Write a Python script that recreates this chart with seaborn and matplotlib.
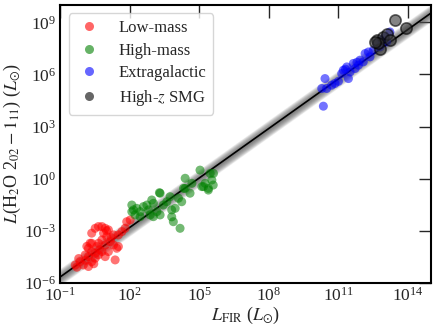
import numpy as np
import pandas as pd
import matplotlib
matplotlib.use("Agg")
import matplotlib.pyplot as plt
from matplotlib.lines import Line2D
import seaborn as sns

# log10 values
low_lx = [-0.28, 0.00, 0.22, 0.36, 0.22, 0.08, 0.51, 0.65, 0.29, 0.22, 0.36, 0.58,
          0.36, 0.51, 0.65, 0.80, 0.94, 1.08, 0.87, 1.01, 0.80, 0.65, 0.94, 1.16,
          1.30, 1.44, 1.37, 1.08, 0.80, 0.94, 0.51, 0.36, 1.30, 1.51, 1.66, 1.80,
          1.87, 2.02, 1.51, -0.14, -0.35, -0.20, 0.10, 0.45, 0.70, 1.20, 1.00, 0.15]
low_ly = [-5.10, -4.97, -5.06, -4.78, -4.49, -4.39, -4.58, -4.39, -3.72, -4.01, -3.72, -3.91,
          -3.14, -2.86, -2.76, -2.76, -2.86, -2.95, -3.14, -3.34, -3.53, -3.72, -3.82, -3.63,
          -3.82, -4.01, -4.68, -4.20, -4.20, -4.49, -4.30, -4.20, -3.24, -3.24, -3.05, -2.86,
          -2.48, -2.38, -3.91, -4.78, -4.97, -4.60, -4.70, -4.90, -4.10, -3.40, -3.00, -3.90]

high_lx = [2.09, 2.16, 2.30, 2.45, 2.59, 2.74, 2.81, 2.95, 3.02, 2.88, 3.17, 3.31,
           3.28, 3.81, 3.96, 4.17, 3.88, 3.74, 4.10, 4.24, 4.39, 4.39, 4.60, 4.68,
           5.03, 5.11, 5.25, 5.39, 5.47, 5.54, 2.45, 2.23, 3.02, 3.45, 3.60, 3.81,
           3.31, 4.32, 5.18, 5.61, 5.60, 5.39, 2.09]
high_ly = [-1.52, -1.80, -1.71, -1.90, -1.61, -1.52, -1.80, -1.23, -1.42, -2.09, -1.90, -2.09,
           -0.81, -1.80, -1.71, -2.86, -2.48, -1.04, -1.13, -1.33, 0.02, -0.56, -0.84, -0.27,
           0.49, -0.46, -0.27, -0.56, 0.30, -0.08, -2.19, -2.09, -2.19, -1.52, -1.33, -2.20,
           -0.84, -0.56, -0.46, 0.30, -0.37, -0.66, -1.90]

extra_lx = [10.35, 10.42, 10.28, 10.49, 10.71, 10.85, 11.21, 11.36, 11.14, 11.43, 11.50, 11.64,
            11.72, 11.86, 11.93, 12.15, 12.29, 12.36, 12.50, 12.07, 12.65, 12.86, 13.01, 13.22,
            13.08, 12.79, 11.00, 11.30, 11.80]
extra_ly = [4.17, 5.76, 5.19, 5.19, 5.38, 5.48, 6.24, 6.43, 6.05, 5.76, 6.14, 6.63,
            6.34, 6.53, 6.82, 7.20, 7.29, 7.01, 7.39, 6.72, 7.78, 7.97, 8.16, 8.44,
            7.87, 7.58, 5.60, 6.30, 6.70]

smg_lx = [13.44, 13.91, 12.65, 12.79, 12.94, 13.08, 13.22, 12.72, 12.58]
smg_ly = [9.11, 8.69, 7.97, 7.49, 8.16, 8.30, 7.97, 7.78, 7.87]

labels = ["Low-mass", "High-mass", "Extragalactic", "High-$z$ SMG"]
colors = ["red", "green", "blue", "black"]

# fit: log L_H2O = slope * log L_FIR + icpt
slope = 0.95
icpt = -4.71

sns.set_style("white")
plt.rcParams["font.family"] = ["Liberation Serif", "DejaVu Serif"]
plt.rcParams["mathtext.fontset"] = "stix"

df = pd.DataFrame({
    "lfir": 10 ** np.array(low_lx + high_lx + extra_lx + smg_lx),
    "lh2o": 10 ** np.array(low_ly + high_ly + extra_ly + smg_ly),
    "group": [labels[0]] * len(low_lx) + [labels[1]] * len(high_lx)
             + [labels[2]] * len(extra_lx) + [labels[3]] * len(smg_lx),
})

fig = plt.figure(figsize=(4.36, 3.27), dpi=100)
ax = fig.add_axes([0.138, 0.135, 0.851, 0.85])

# blurred uncertainty band around the fit
xx = np.logspace(-1, 15, 200)
for w in np.linspace(0.04, 0.5, 16):
    ax.fill_between(xx, 10 ** (slope * np.log10(xx) + icpt - w),
                    10 ** (slope * np.log10(xx) + icpt + w),
                    color="#555555", alpha=0.08, lw=0, zorder=1)
ax.plot(xx, 10 ** (slope * np.log10(xx) + icpt), color="black", lw=1.2, zorder=2)

sub = df[df.group != labels[3]]
sns.scatterplot(data=sub, x="lfir", y="lh2o", hue="group", palette=colors[:3],
                hue_order=labels[:3], s=42, alpha=0.55, edgecolor="none",
                ax=ax, zorder=3, legend=False)
smg = df[df.group == labels[3]]
sns.scatterplot(data=smg, x="lfir", y="lh2o", color="#333333", s=65, alpha=0.6,
                edgecolor="black", linewidth=1.2, ax=ax, zorder=4)

ax.set_xscale("log")
ax.set_yscale("log")
ax.set_xlim(1e-1, 1e15)
ax.set_ylim(1e-6, 1e10)
ax.set_xticks([10.0 ** k for k in range(-1, 15, 3)])
ax.set_yticks([10.0 ** k for k in range(-6, 10, 3)])
ax.minorticks_off()
ax.tick_params(direction="in", length=9, width=1, top=True, right=True,
               labelsize=12.5, pad=3)
for sp in ax.spines.values():
    sp.set_color("black")
    sp.set_linewidth(1.5)

ax.set_xlabel(r"$L_{\rm FIR}$ ($L_{\odot}$)", fontsize=13, labelpad=0)
ax.set_ylabel(r"$L$(H$_2$O 2$_{02}-1_{11}$) ($L_{\odot}$)", fontsize=13, labelpad=1)

handles = [Line2D([], [], ls="none", marker="o", markersize=6.5, color=c,
                  markeredgecolor="none", alpha=0.6) for c in colors]
ax.legend(handles, labels, loc="upper left", fontsize=12, frameon=True,
          handlelength=1.6, handletextpad=1.0, borderpad=0.4, labelspacing=0.4)

fig.savefig("out.png", dpi=100)
